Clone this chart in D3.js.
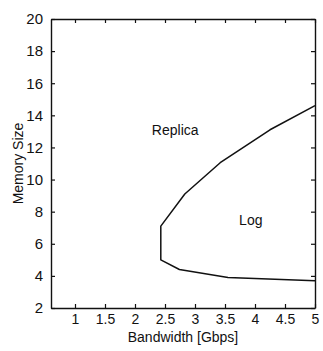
<!DOCTYPE html>
<html>
<head>
<meta charset="utf-8">
<script src="https://cdn.jsdelivr.net/npm/d3@7"></script>
<style>
  body { margin: 0; background: #fff; }
  svg text { font-family: "Liberation Sans", Arial, sans-serif; fill: #111; }
</style>
</head>
<body>
<div id="chart"></div>
<script>
// boundary between the Replica and Log regions
const upperX = [2.43, 2.83, 3.42, 4.25, 5.0];
const upperY = [7.1, 9.1, 11.05, 13.1, 14.6];
const lowerX = [2.43, 2.74, 3.55, 5.0];
const lowerY = [5.0, 4.4, 3.9, 3.7];

const xTicks = [1, 1.5, 2, 2.5, 3, 3.5, 4, 4.5, 5];
const yTicks = [2, 4, 6, 8, 10, 12, 14, 16, 18, 20];

const regionLabels = ["Replica", "Log"];
const regionX = [2.67, 3.93];
const regionY = [13.1, 7.45];

const W = 323, H = 351;
const margin = { top: 19, right: 8, bottom: 43, left: 51 };

const svg = d3.select("#chart").append("svg")
    .attr("width", W)
    .attr("height", H);

const x = d3.scaleLinear().domain([0.6, 5]).range([margin.left, W - margin.right]);
const y = d3.scaleLinear().domain([2, 20]).range([H - margin.bottom, margin.top]);

const fmt = d => String(d);

// bottom axis, ticks pointing inward
svg.append("g")
    .attr("transform", `translate(0,${y(2)})`)
    .call(d3.axisBottom(x).tickValues(xTicks).tickFormat(fmt).tickSizeInner(-4).tickSizeOuter(0).tickPadding(6))
    .call(g => g.selectAll("text").style("font-size", "14px"));

// left axis
svg.append("g")
    .attr("transform", `translate(${x(0.6)},0)`)
    .call(d3.axisLeft(y).tickValues(yTicks).tickFormat(fmt).tickSizeInner(-4).tickSizeOuter(0).tickPadding(8))
    .call(g => g.selectAll("text").style("font-size", "15px"));

// top and right mirror axes
svg.append("g")
    .attr("transform", `translate(0,${y(20)})`)
    .call(d3.axisTop(x).tickValues(xTicks).tickFormat("").tickSizeInner(-4).tickSizeOuter(0));
svg.append("g")
    .attr("transform", `translate(${x(5)},0)`)
    .call(d3.axisRight(y).tickValues(yTicks).tickFormat("").tickSizeInner(-4).tickSizeOuter(0));

svg.selectAll(".domain").attr("stroke", "#111").attr("stroke-width", 1.4);
svg.selectAll(".tick line").attr("stroke", "#111").attr("stroke-width", 1.2);

// boundary curve
const pts = upperX.map((d, i) => [d, upperY[i]]).reverse()
    .concat(lowerX.map((d, i) => [d, lowerY[i]]));
const line = d3.line().x(d => x(d[0])).y(d => y(d[1]));
svg.append("path")
    .datum(pts)
    .attr("d", line)
    .attr("fill", "none")
    .attr("stroke", "#111")
    .attr("stroke-width", 1.5)
    .attr("stroke-linejoin", "round");

// region labels
svg.selectAll(".region")
    .data(regionLabels)
    .enter().append("text")
    .attr("class", "region")
    .attr("x", (d, i) => x(regionX[i]))
    .attr("y", (d, i) => y(regionY[i]))
    .attr("text-anchor", "middle")
    .attr("dy", "0.35em")
    .style("font-size", "14px")
    .text(d => d);

// axis titles
svg.append("text")
    .attr("x", (x(0.6) + x(5)) / 2)
    .attr("y", 342)
    .attr("text-anchor", "middle")
    .style("font-size", "14px")
    .text("Bandwidth [Gbps]");

svg.append("text")
    .attr("transform", `translate(23,${(y(2) + y(20)) / 2}) rotate(-90)`)
    .attr("text-anchor", "middle")
    .style("font-size", "14px")
    .text("Memory Size");
</script>
</body>
</html>
